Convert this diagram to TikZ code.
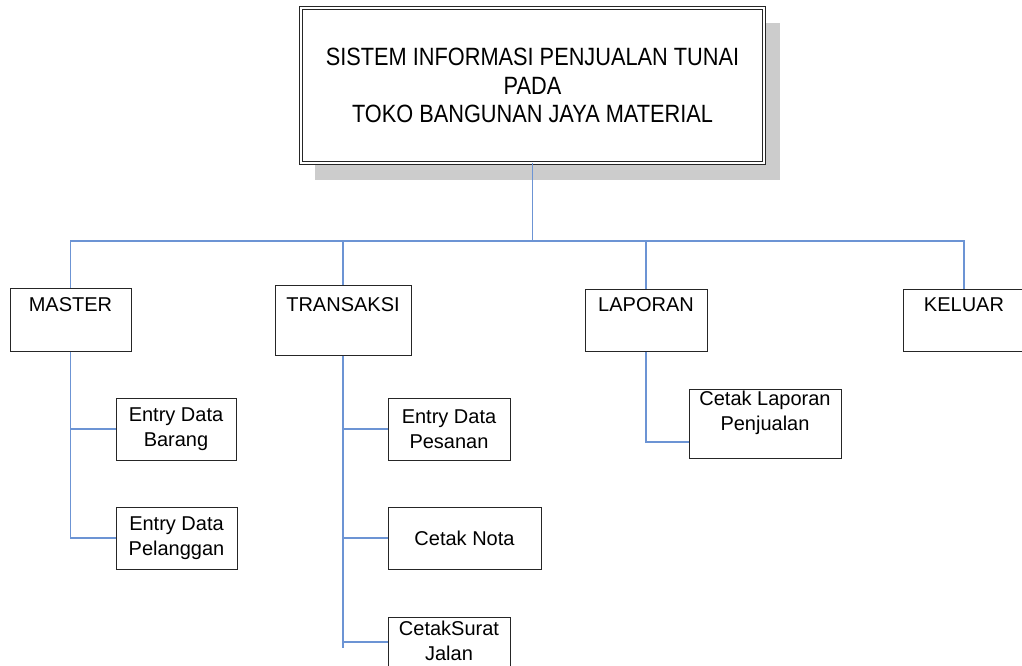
\documentclass[tikz,border=0pt]{standalone}
\usepackage{fontspec}
\setmainfont{Liberation Sans}
\newfontfamily\titlefont[FakeStretch=0.87]{Liberation Sans}
\definecolor{linkblue}{RGB}{108,148,212}
\begin{document}
\begin{tikzpicture}[x=1pt,y=-1pt,
    menubox/.style={draw=black!85,line width=1pt,inner sep=0pt},
    menutext/.style={inner sep=0pt,anchor=north,align=center,
      font=\fontsize{20}{25}\selectfont},
    conn/.style={draw=linkblue,line width=1.3pt}]
  \useasboundingbox (0,0) rectangle (1022,665);
  % title
  \fill[black!20] (315,23) rectangle (780,180);
  \node[draw=black!85,double,double distance=1.6pt,line width=0.8pt,fill=white,
    minimum width=463,minimum height=155,align=center,inner sep=0pt,
    font=\titlefont\fontsize{25}{28.5}\selectfont]
    (title) at (532.5,85.5) {SISTEM INFORMASI PENJUALAN TUNAI\\PADA\\TOKO BANGUNAN JAYA MATERIAL};
  % menu level
  \node[menubox,minimum width=121,minimum height=63] (master) at (70.5,319.5) {};
  \node[menubox,minimum width=136,minimum height=70] (transaksi) at (343,320) {};
  \node[menubox,minimum width=122,minimum height=62] (laporan) at (646,320) {};
  \node[menubox,minimum width=122,minimum height=62] (keluar) at (964,320) {};
  \node[menutext] (master-t) at ([yshift=-10pt]master.north) {MASTER};
  \node[menutext] (transaksi-t) at ([yshift=-13pt]transaksi.north) {TRANSAKSI};
  \node[menutext] (laporan-t) at ([yshift=-9pt]laporan.north) {LAPORAN};
  \node[menutext] (keluar-t) at ([yshift=-9pt]keluar.north) {KELUAR};
  % sub menus
  \node[menubox,minimum width=120,minimum height=62,menutext,anchor=center]
    (barang) at (176,429) {Entry Data\\Barang};
  \node[menubox,minimum width=121,minimum height=62,menutext,anchor=center]
    (pelanggan) at (176.5,538) {Entry Data\\Pelanggan};
  \node[menubox,minimum width=122,minimum height=62,menutext,anchor=center]
    (pesanan) at (449,429) {Entry Data\\Pesanan};
  \node[menubox,minimum width=153,minimum height=62,menutext,anchor=center]
    (nota) at (464.5,538) {Cetak Nota};
  \node[menubox,minimum width=122,minimum height=62] (surat) at (449,648) {};
  \node[menutext] (surat-t) at ([yshift=-4pt]surat.north) {CetakSurat\\Jalan};
  \node[menubox,minimum width=152,minimum height=69] (lapjual) at (765,423.5) {};
  \node[menutext] (lapjual-t) at ([yshift=-2pt]lapjual.north) {Cetak Laporan\\Penjualan};
  % connectors
  \coordinate (bus) at (0,241);
  \coordinate (surat-in) at ([yshift=6pt]surat.west);
  \coordinate (lapjual-in) at ([yshift=-18.5pt]lapjual.west);
  \begin{scope}[conn]
    \draw (title.south) -- (title.south |- bus);
    \draw (master.north) -- (master.north |- bus) -| (keluar.north);
    \draw (transaksi.north) -- (transaksi.north |- bus);
    \draw (laporan.north) -- (laporan.north |- bus);
    \draw (master.south) |- (pelanggan.west);
    \draw (master.south |- barang.west) -- (barang.west);
    \draw (transaksi.south) -- ++(0,292);
    \draw (transaksi.south |- pesanan.west) -- (pesanan.west);
    \draw (transaksi.south |- nota.west) -- (nota.west);
    \draw (transaksi.south |- surat-in) -- (surat-in);
    \draw (laporan.south) |- (lapjual-in);
  \end{scope}
\end{tikzpicture}
\end{document}
